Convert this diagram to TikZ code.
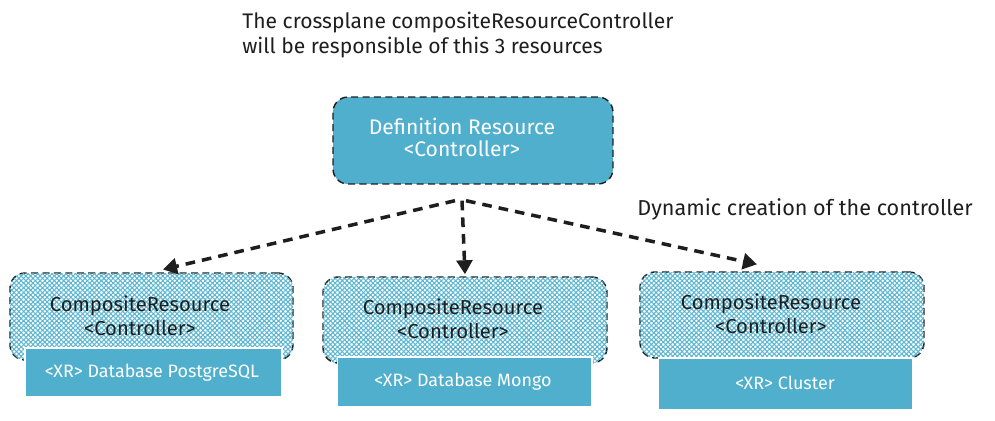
\documentclass[tikz,border=0pt]{standalone}
\usepackage{fontspec}
\setmainfont{Fira Sans}
\usetikzlibrary{arrows.meta,patterns.meta}
\definecolor{xblue}{HTML}{4FAFCC}
\definecolor{hatchblue}{HTML}{5DB6D1}
\definecolor{ink}{HTML}{1E1E1E}
\begin{document}
\begin{tikzpicture}[x=0.02cm,y=-0.02cm,
  txt/.style={font=\fontsize{12}{14.2}\selectfont, text=ink, inner sep=0pt},
  wtxt/.style={font=\fontsize{12}{12.5}\selectfont, text=white, align=center, inner sep=0pt},
  ctxt/.style={font=\fontsize{11.5}{13.8}\selectfont, text=ink, align=center, inner sep=0pt},
  stxt/.style={font=\fontsize{10.2}{11}\selectfont, text=white, inner sep=0pt},
  defbox/.style={draw=ink, line width=0.8pt, dash pattern=on 4pt off 2.5pt, rounded corners=0.3cm, fill=xblue, minimum width=5.6cm, minimum height=1.74cm, inner sep=0pt},
  hatchbox/.style={draw=ink, line width=0.8pt, dash pattern=on 4pt off 2.5pt, rounded corners=0.3cm, fill=white,
    pattern={Lines[angle=45,distance=1.9pt,line width=0.62pt]}, pattern color=hatchblue,
    postaction={pattern={Lines[angle=-45,distance=1.9pt,line width=0.62pt]}, pattern color=hatchblue},
    minimum width=5.68cm, minimum height=1.72cm, inner sep=0pt},
  xrbox/.style={fill=xblue, draw=white, line width=0.6pt, inner sep=0pt},
  arr/.style={draw=ink, line width=2pt, dash pattern=on 5.5pt off 4pt, -{Triangle[length=8pt,width=9pt]}}
]
\useasboundingbox (0,0) rectangle (995,420);

\node[txt, anchor=west, align=left] (note) at (242,35) {The crossplane compositeResourceController\\will be responsible of this 3 resources};

\node[defbox] (def) at (473,140.5) {};
\node[wtxt] (deft) at (462,137.5) {Definition Resource\\\textless Controller\textgreater};

\node[txt, anchor=west, font=\fontsize{12.3}{14}\selectfont] (dyn) at (637,209) {Dynamic creation of the controller};

% bottom boxes
\node[hatchbox, minimum width=5.66cm, minimum height=1.74cm] (c1) at (151.5,316.5) {};
\node[hatchbox] (c2) at (465,320) {};
\node[hatchbox] (c3) at (782,315) {};

\node[xrbox, minimum width=5.14cm, minimum height=0.98cm] (x1) at (153.5,372.5) {};
\node[xrbox, minimum width=5.1cm, minimum height=1.0cm] (x2) at (464.5,382) {};
\node[xrbox, minimum width=5.1cm, minimum height=1.04cm] (x3) at (785.5,384) {};

\node[ctxt] (c1t) at (140,315.5) {CompositeResource\\\textless Controller\textgreater};
\node[ctxt] (c2t) at (453,318.5) {CompositeResource\\\textless Controller\textgreater};
\node[ctxt] (c3t) at (771,314) {CompositeResource\\\textless Controller\textgreater};

\node[stxt] (x1t) at (152,373) {\textless XR\textgreater{} Database PostgreSQL};
\node[stxt] (x2t) at (463,382) {\textless XR\textgreater{} Database Mongo};
\node[stxt] (x3t) at (785,383) {\textless XR\textgreater{} Cluster};

% arrows
\draw[arr] ([xshift=-0.36cm,yshift=-0.32cm]def.south) -- ([xshift=0.23cm,yshift=0.06cm]c1.north);
\draw[arr] ([xshift=-0.22cm,yshift=-0.32cm]def.south) -- ([yshift=0.04cm]c2.north);
\draw[arr] ([xshift=-0.14cm,yshift=-0.32cm]def.south) -- ([xshift=-0.5cm,yshift=0.14cm]c3.north);
\end{tikzpicture}
\end{document}
